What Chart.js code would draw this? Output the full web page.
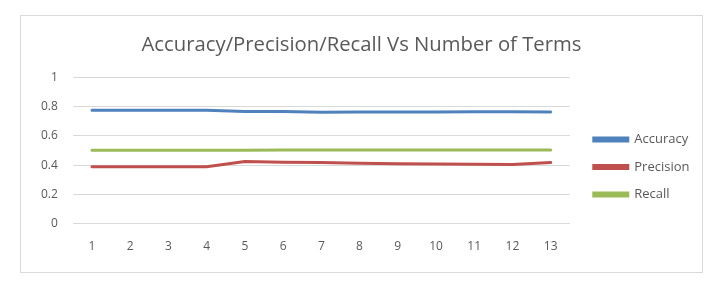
<!DOCTYPE html>
<html lang="en">
<head>
    <meta charset="UTF-8">
    <script src="https://cdn.jsdelivr.net/npm/chart.js"></script>
    <title>Accuracy/Precision/Recall</title>
    <style>
      body { margin: 0; background: #fff; }
      #frame { position: absolute; left: 20px; top: 15px; width: 681px; height: 256px; border: 1px solid #d9d9d9; }
    </style>
</head>
<body>
    <div id="frame"><canvas id="metricsChart" width="681" height="256"></canvas></div>

    <script>
      // values
      const terms = ['1', '2', '3', '4', '5', '6', '7', '8', '9', '10', '11', '12', '13'];
      const accuracy = [0.775, 0.775, 0.775, 0.775, 0.767, 0.767, 0.762, 0.763, 0.763, 0.763, 0.764, 0.764, 0.763];
      const precision = [0.388, 0.388, 0.388, 0.388, 0.425, 0.42, 0.417, 0.412, 0.41, 0.408, 0.406, 0.404, 0.418];
      const recall = [0.502, 0.502, 0.502, 0.502, 0.502, 0.504, 0.503, 0.503, 0.503, 0.503, 0.503, 0.503, 0.503];

      const textColor = '#595959';
      const fontFamily = "'Open Sans', sans-serif";
      const legendPad = 14.5;

      // put the legend where Excel puts it: a bit right of the plot, a bit below its middle
      // and center the title on the whole frame, not on the padded area
      const legendShift = {
        id: 'legendShift',
        afterLayout(chart) {
          const lg = chart.legend;
          const area = chart.chartArea;
          const w = lg.right - lg.left, h = lg.bottom - lg.top;
          lg.left = area.right + 24 - legendPad;
          lg.right = lg.left + w;
          const mid = (area.top + area.bottom) / 2 + 16.5;
          lg.top = mid - h / 2;
          lg.bottom = mid + h / 2;

          const tb = chart.titleBlock;
          if (tb) {
            tb.left = 0;
            tb.right = chart.width;
            tb.width = chart.width;
          }
        }
      };

      function line(label, data, color) {
        return {
          label: label,
          data: data,
          borderColor: color,
          backgroundColor: color,
          borderWidth: 3,
          pointRadius: 0,
          tension: 0,
          borderCapStyle: 'round'
        };
      }

      const ctx = document.getElementById('metricsChart').getContext('2d');
      new Chart(ctx, {
        type: 'line',
        data: {
          labels: terms,
          datasets: [
            line('Accuracy', accuracy, '#4f81bd'),
            line('Precision', precision, '#c0504d'),
            line('Recall', recall, '#9bbb59')
          ]
        },
        options: {
          responsive: false,
          animation: false,
          layout: { padding: { left: 5, right: 12, top: 0, bottom: 2 } },
          plugins: {
            title: {
              display: true,
              text: 'Accuracy/Precision/Recall Vs Number of Terms',
              color: textColor,
              font: { family: fontFamily, size: 20.3, weight: 'normal' },
              padding: { top: 17, bottom: 20 }
            },
            legend: {
              position: 'right',
              labels: {
                color: textColor,
                font: { family: fontFamily, size: 13 },
                boxWidth: 34,
                boxHeight: 3,
                padding: legendPad
              }
            },
            tooltip: { enabled: false }
          },
          scales: {
            x: {
              offset: true,
              grid: { display: false, drawTicks: false },
              border: { display: false },
              ticks: { color: textColor, font: { family: fontFamily, size: 12 }, padding: 16 }
            },
            y: {
              min: 0,
              max: 1,
              grid: { color: '#d9d9d9', drawTicks: false },
              border: { display: false },
              ticks: {
                stepSize: 0.2,
                color: textColor,
                font: { family: fontFamily, size: 12 },
                padding: 15,
                callback: (v) => String(+v.toFixed(1))
              }
            }
          }
        },
        plugins: [legendShift]
      });
    </script>
</body>
</html>
